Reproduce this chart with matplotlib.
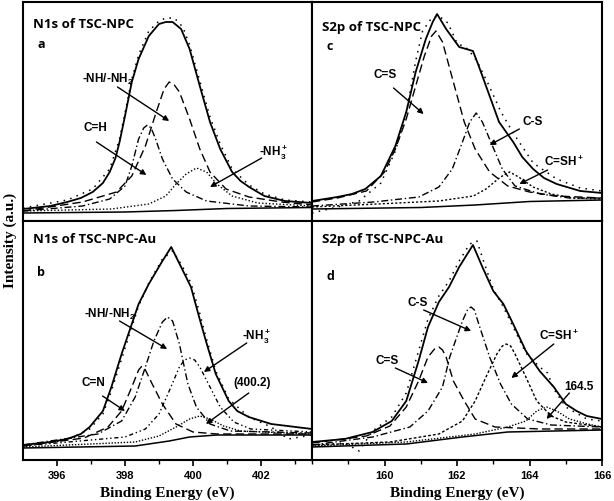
import matplotlib
matplotlib.use("Agg")
import matplotlib.pyplot as plt

plt.rcParams["font.family"] = ["Liberation Sans", "DejaVu Sans"]
plt.rcParams["mathtext.default"] = "regular"

# ---- panel a : N1s of TSC-NPC ----
a_env_x = [395.0, 395.8, 396.3, 396.7, 397.05, 397.35, 397.55, 397.72, 397.84, 398.0, 398.2, 398.4,
           398.7, 399.0, 399.2, 399.4, 399.65, 399.9, 400.2, 400.5, 400.8, 401.15, 401.4, 401.65,
           402.1, 402.7, 403.5]
a_env_y = [12, 15, 19, 23, 29, 38, 49, 63, 79, 105, 139, 162, 185, 197, 199, 199, 192, 172, 135,
           99, 72, 49, 40, 34, 25, 20, 18]
a_raw_x = [395.0, 396.3, 397.05, 397.55, 397.84, 398.0, 398.2, 398.4, 398.7, 399.0, 399.2, 399.45,
           399.7, 399.9, 400.2, 400.5, 400.8, 401.15, 401.65, 402.1, 402.7, 403.5]
a_raw_y = [13, 21, 32, 52, 82, 108, 142, 166, 190, 200, 203, 203, 194, 176, 140, 104, 77, 52, 36, 27, 21, 19]
a_nh_x = [395.0, 396.75, 397.75, 398.2, 398.6, 398.92, 399.15, 399.3, 399.45, 399.6, 399.9, 400.2,
          400.5, 400.97, 401.65, 402.6, 403.5]
a_nh_y = [10, 19, 29, 45, 75, 109, 132, 139, 136, 129, 102, 72, 49, 32, 24, 19, 16]
a_ch_x = [395.0, 396.75, 397.55, 398.0, 398.2, 398.4, 398.55, 398.66, 398.77, 398.9, 399.1, 399.4,
          399.8, 400.4, 401.65, 403.5]
a_ch_y = [10, 15, 22, 35, 55, 82, 93, 96, 93, 82, 62, 42, 29, 20, 15, 14]
a_nh3_x = [395.0, 397.6, 398.7, 399.2, 399.5, 399.8, 400.1, 400.4, 400.7, 401.15, 401.9, 403.5]
a_nh3_y = [10, 12, 17, 25, 37, 47, 53, 49, 37, 25, 18, 15]
a_base_x = [395.0, 398.0, 399.5, 401.0, 403.5]
a_base_y = [8, 9, 10.5, 12.5, 13.5]

# ---- panel b : N1s of TSC-NPC-Au ----
b_env_x = [395.0, 395.8, 396.3, 396.7, 396.96, 397.35, 397.6, 397.9, 398.2, 398.4, 398.7, 399.1,
           399.36, 399.65, 399.94, 400.18, 400.38, 400.67, 401.05, 401.3, 401.64, 402.3, 403.5]
b_env_y = [14, 17, 20, 25, 32, 48, 72, 105, 135, 155, 175, 198, 212, 192, 172, 142, 118, 85, 58,
           48, 42, 35, 30]
b_raw_x = [395.0, 396.3, 396.96, 397.35, 397.6, 397.9, 398.2, 398.4, 398.7, 399.1, 399.4, 399.65,
           399.94, 400.18, 400.38, 400.67, 401.05, 401.64, 402.3, 402.8, 403.5]
b_raw_y = [13, 19, 30, 45, 68, 100, 132, 153, 176, 200, 208, 195, 176, 148, 122, 88, 60, 42, 32, 20, 24]
b_cn_x = [395.0, 396.8, 397.5, 397.9, 398.2, 398.4, 398.5, 398.6, 398.8, 399.1, 399.5, 400.0, 400.7, 403.5]
b_cn_y = [13, 21, 32, 48, 72, 89, 93, 89, 75, 55, 35, 27, 25, 25]
b_nh_x = [395.0, 397.2, 397.9, 398.3, 398.6, 398.85, 399.1, 399.25, 399.4, 399.6, 399.85, 400.1,
          400.5, 401.1, 403.5]
b_nh_y = [14, 25, 38, 62, 92, 118, 137, 142, 138, 115, 75, 52, 35, 28, 26]
b_nh3_x = [395.0, 398.0, 398.6, 399.0, 399.3, 399.6, 399.75, 399.9, 400.05, 400.2, 400.5, 400.8,
           401.2, 401.7, 403.5]
b_nh3_y = [13, 22, 30, 45, 68, 92, 99, 101, 99, 92, 72, 52, 37, 30, 27]
b_p402_x = [395.0, 398.3, 399.0, 399.5, 399.9, 400.2, 400.5, 400.9, 401.4, 403.5]
b_p402_y = [12, 17, 23, 32, 40, 43, 40, 33, 28, 25]
b_base_x = [395.0, 398.3, 399.3, 399.9, 400.7, 403.5]
b_base_y = [11, 13, 18, 22, 24, 24]

# ---- panel c : S2p of TSC-NPC ----
c_env_x = [158.0, 158.7, 159.1, 159.47, 159.9, 160.3, 160.6, 160.86, 161.14, 161.33, 161.45, 161.7,
           162.06, 162.44, 162.6, 162.9, 163.16, 163.55, 163.8, 164.1, 164.4, 164.75, 165.4, 166.0]
c_env_y = [20, 24, 27, 32, 45, 75, 109, 149, 182, 199, 207, 192, 174, 170, 155, 125, 99, 79, 64,
           52, 43, 37, 30, 28]
c_raw_x = [158.0, 158.7, 159.3, 159.9, 160.3, 160.6, 160.86, 161.05, 161.3, 161.5, 161.75, 162.0,
           162.3, 162.55, 162.85, 163.2, 163.55, 164.1, 164.75, 165.4, 166.0]
c_raw_y = [8, 14, 20, 38, 70, 108, 160, 190, 203, 205, 198, 178, 172, 160, 138, 110, 88, 58, 42, 33, 30]
c_cs2_x = [158.0, 158.7, 159.5, 160.0, 160.3, 160.6, 160.86, 161.1, 161.3, 161.42, 161.6, 161.9,
           162.2, 162.5, 162.9, 163.4, 164.0, 164.75, 166.0]
c_cs2_y = [19, 23, 30, 49, 72, 102, 135, 165, 185, 190, 179, 139, 99, 72, 49, 35, 29, 25, 23]
c_cs1_x = [158.0, 159.7, 160.95, 161.5, 161.87, 162.15, 162.35, 162.53, 162.7, 162.98, 163.25,
           163.6, 164.3, 165.1, 166.0]
c_cs1_y = [15, 19, 24, 34, 52, 79, 99, 108, 99, 75, 52, 35, 27, 23, 23]
c_csh_x = [158.0, 159.8, 161.5, 162.45, 162.8, 163.2, 163.45, 163.7, 164.1, 164.6, 165.2, 166.0]
c_csh_y = [14, 17, 20, 25, 32, 44, 49, 44, 34, 27, 23, 22]
c_base_x = [158.0, 161.0, 162.5, 164.0, 166.0]
c_base_y = [12, 13.5, 16, 19.5, 21]

# ---- panel d : S2p of TSC-NPC-Au ----
d_env_x = [158.0, 158.9, 159.67, 160.2, 160.6, 160.94, 161.2, 161.5, 161.78, 162.06, 162.44, 162.7,
           163.0, 163.28, 163.55, 163.9, 164.28, 164.67, 165.0, 165.3, 165.58, 166.0]
d_env_y = [17, 20, 27, 38, 58, 98, 132, 157, 172, 192, 214, 192, 168, 155, 135, 108, 88, 72, 55,
           48, 43, 40]
d_raw_x = [158.0, 158.9, 159.3, 159.67, 160.2, 160.6, 160.94, 161.2, 161.5, 161.78, 162.06, 162.35,
           162.55, 162.75, 163.0, 163.28, 163.55, 163.9, 164.28, 164.5, 164.67, 165.0, 165.58, 166.0]
d_raw_y = [14, 16, 8, 28, 42, 66, 108, 140, 163, 178, 198, 215, 218, 196, 170, 152, 132, 106, 92,
           86, 70, 52, 40, 38]
d_cs2_x = [158.0, 159.5, 160.15, 160.6, 160.94, 161.2, 161.38, 161.5, 161.6, 161.7, 161.9, 162.2,
           162.5, 163.05, 164.3, 166.0]
d_cs2_y = [16, 23, 33, 52, 78, 102, 110, 112, 109, 102, 78, 58, 40, 32, 30, 30]
d_cs1_x = [158.0, 159.67, 160.7, 161.2, 161.6, 161.8, 162.15, 162.3, 162.39, 162.48, 162.6, 162.9,
           163.2, 163.5, 163.95, 164.6, 166.0]
d_cs1_y = [14, 22, 32, 48, 72, 102, 138, 150, 152, 149, 135, 102, 75, 55, 40, 34, 32]
d_csh_x = [158.0, 160.15, 161.5, 162.15, 162.5, 162.8, 163.1, 163.25, 163.36, 163.48, 163.6, 163.9,
           164.2, 164.6, 165.0, 166.0]
d_csh_y = [14, 17, 25, 38, 58, 82, 105, 113, 115, 113, 105, 82, 58, 43, 37, 32]
d_p645_x = [158.0, 160.6, 162.5, 163.4, 163.9, 164.2, 164.47, 164.75, 165.1, 165.6, 166.0]
d_p645_y = [13, 17, 25, 32, 38, 48, 52, 48, 40, 35, 32]
d_base_x = [158.0, 160.6, 162.15, 163.4, 166.0]
d_base_y = [12, 15, 22, 27, 29]

raw_style = dict(color="black", lw=1.1, ls=(0, (1, 3.5)))
env_style = dict(color="black", lw=1.3, ls="-")
base_style = dict(color="black", lw=1.1, ls="-")
lbl_font = dict(fontsize=8.5, fontweight="bold")
arrow = dict(arrowstyle="-|>", color="black", lw=1.0, mutation_scale=8, shrinkA=0, shrinkB=0)

fig = plt.figure(figsize=(6.14, 5.02), dpi=100)
W, H = 614, 502


def box(x0, y0, x1, y1):
    return [x0 / W, 1 - y1 / H, (x1 - x0) / W, (y1 - y0) / H]


ax_a = fig.add_axes(box(23, 3, 312, 222))
ax_c = fig.add_axes(box(312, 3, 602, 222))
ax_b = fig.add_axes(box(23, 222, 312, 461))
ax_d = fig.add_axes(box(312, 222, 602, 461))

for ax in (ax_a, ax_b):
    ax.set_xlim(395, 403.5)
    ax.set_xticks([396, 398, 400, 402])
    ax.set_xticks([397, 399, 401, 403], minor=True)
for ax in (ax_c, ax_d):
    ax.set_xlim(158, 166)
    ax.set_xticks([160, 162, 164, 166])
    ax.set_xticks([158, 159, 161, 163, 165], minor=True)
for ax in (ax_a, ax_c):
    ax.set_ylim(0, 219)
for ax in (ax_b, ax_d):
    ax.set_ylim(-1, 238)

for ax in (ax_a, ax_b, ax_c, ax_d):
    for s in ax.spines.values():
        s.set_linewidth(1.5)
    ax.set_yticks([])
    ax.tick_params(axis="x", which="major", direction="out", length=4, width=1.2, labelsize=8, pad=3)
    ax.tick_params(axis="x", which="minor", direction="out", length=3, width=1.0)
    for t in ax.get_xticklabels():
        t.set_fontweight("bold")
for ax in (ax_a, ax_c):
    ax.tick_params(axis="x", which="both", length=0, labelbottom=False)

# panel a
ax_a.plot(a_raw_x, a_raw_y, **raw_style)
ax_a.plot(a_env_x, a_env_y, **env_style)
ax_a.plot(a_nh_x, a_nh_y, color="black", lw=1.0, ls=(0, (6, 3)))
ax_a.plot(a_ch_x, a_ch_y, color="black", lw=1.0, ls=(0, (5, 2, 1, 2)))
ax_a.plot(a_nh3_x, a_nh3_y, color="black", lw=1.0, ls=(0, (1, 1.5)))
ax_a.plot(a_base_x, a_base_y, **base_style)

# panel b
ax_b.plot(b_raw_x, b_raw_y, **raw_style)
ax_b.plot(b_env_x, b_env_y, **env_style)
ax_b.plot(b_cn_x, b_cn_y, color="black", lw=1.0, ls=(0, (6, 3)))
ax_b.plot(b_nh_x, b_nh_y, color="black", lw=1.0, ls=(0, (5, 2, 1, 2)))
ax_b.plot(b_nh3_x, b_nh3_y, color="black", lw=1.0, ls=(0, (3, 2, 1, 2, 1, 2)))
ax_b.plot(b_p402_x, b_p402_y, color="black", lw=1.0, ls=(0, (1, 1.2)))
ax_b.plot(b_base_x, b_base_y, **base_style)

# panel c
ax_c.plot(c_raw_x, c_raw_y, **raw_style)
ax_c.plot(c_env_x, c_env_y, **env_style)
ax_c.plot(c_cs2_x, c_cs2_y, color="black", lw=1.0, ls=(0, (6, 3)))
ax_c.plot(c_cs1_x, c_cs1_y, color="black", lw=1.0, ls=(0, (5, 2, 1, 2)))
ax_c.plot(c_csh_x, c_csh_y, color="black", lw=1.0, ls=(0, (1.5, 1.5)))
ax_c.plot(c_base_x, c_base_y, **base_style)

# panel d
ax_d.plot(d_raw_x, d_raw_y, **raw_style)
ax_d.plot(d_env_x, d_env_y, **env_style)
ax_d.plot(d_cs2_x, d_cs2_y, color="black", lw=1.0, ls=(0, (6, 3)))
ax_d.plot(d_cs1_x, d_cs1_y, color="black", lw=1.0, ls=(0, (5, 2, 1, 2)))
ax_d.plot(d_csh_x, d_csh_y, color="black", lw=1.0, ls=(0, (2, 1.5)))
ax_d.plot(d_p645_x, d_p645_y, color="black", lw=1.0, ls=(0, (1, 1.2)))
ax_d.plot(d_base_x, d_base_y, **base_style)

# titles and panel letters
title_font = dict(fontsize=9.5, fontweight="bold", family=["Open Sans", "DejaVu Sans"])
for ax, title, letter, ty, ly in ((ax_a, "N1s of TSC-NPC", "a", 0.90, 0.81),
                                  (ax_c, "S2p of TSC-NPC", "c", 0.89, 0.80),
                                  (ax_b, "N1s of TSC-NPC-Au", "b", 0.925, 0.79),
                                  (ax_d, "S2p of TSC-NPC-Au", "d", 0.925, 0.77)):
    ax.text(0.035, ty, title, transform=ax.transAxes, va="center", ha="left", **title_font)
    ax.text(0.05, ly, letter, transform=ax.transAxes, va="center", ha="left",
            fontsize=9, fontweight="bold", family=["Open Sans", "DejaVu Sans"])


def label(ax, text, text_xy, start, end):
    ax.text(*text_xy, text, ha="center", va="center", **lbl_font)
    ax.annotate("", xy=end, xytext=start, arrowprops=arrow)


label(ax_a, "-NH/-NH$_2$", (397.5, 143), (397.78, 134), (399.3, 100))
label(ax_a, "C=H", (397.13, 94), (397.16, 79), (398.63, 46))
label(ax_a, "-NH$_3^+$", (402.37, 70), (402.02, 63), (400.5, 34))

label(ax_b, "-NH/-NH$_2$", (397.54, 146), (397.84, 138), (399.24, 110))
label(ax_b, "-NH$_3^+$", (401.87, 124), (401.58, 116), (400.32, 87))
label(ax_b, "C=N", (397.08, 77), (397.34, 63), (398.0, 48))
label(ax_b, "(400.2)", (401.73, 77), (401.64, 66), (400.38, 35))

label(ax_c, "C=S", (160.03, 147), (160.25, 133), (161.08, 107))
label(ax_c, "C-S", (164.08, 100), (163.72, 92), (162.9, 76))
label(ax_c, "C=SH$^+$", (164.94, 60), (164.5, 51), (163.72, 37))

label(ax_d, "C-S", (160.92, 157), (161.08, 149), (162.39, 128))
label(ax_d, "C=S", (160.08, 99), (160.3, 91), (161.2, 76))
label(ax_d, "C=SH$^+$", (164.8, 124), (164.67, 115), (163.5, 81))
label(ax_d, "164.5", (165.36, 73), (165.1, 66), (164.47, 40))

lab_font = dict(fontsize=11, fontweight="bold", family=["Liberation Serif", "DejaVu Serif"])
ax_b.set_xlabel("Binding Energy (eV)", labelpad=4, **lab_font)
ax_d.set_xlabel("Binding Energy (eV)", labelpad=4, **lab_font)
fig.text(10 / W, 1 - 240 / H, "Intensity (a.u.)", rotation=90, ha="center", va="center", **lab_font)

fig.savefig("out.png", dpi=100)
